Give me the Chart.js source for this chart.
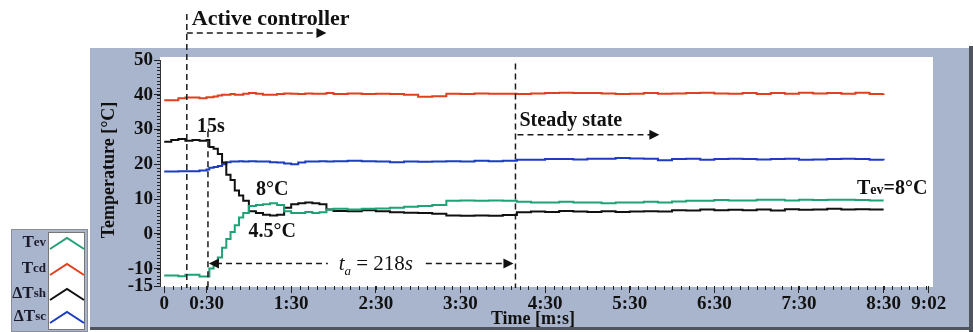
<!DOCTYPE html>
<html>
<head>
<meta charset="utf-8">
<script src="https://cdn.jsdelivr.net/npm/chart.js@4/dist/chart.umd.min.js"></script>
<style>
  html, body { margin: 0; padding: 0; background: #fff; }
  #wrap { width: 973px; height: 332px; position: relative; }
</style>
</head>
<body>
<div id="wrap"><canvas id="chartTemp" width="973" height="332"></canvas></div>
<script>
// time in seconds, shared by all four series
const seconds = [0,5,10,15,20,25,30, 32,35,38,41,44,47,50,53,56,
  60,65,70,75,80,85,90,95,100,105,110,115,120,
  130,140,150,160,170,180,190,200,210,220,230,240,250,260,270,280,290,300,310,320,
  330,340,350,360,370,380,390,400,410,420,430,440,450,460,470,480,490,500,510];

const tev = [-12,-12,-12.2,-11.8,-11.8,-12.3,-12.3,
  -10,-8.5,-6.8,-4,-1.5,0.5,2.5,4.7,6,
  8,8.3,8.5,8.8,8.3,6.5,6,6,6.3,6,6.2,7,7.2,
  7,7.2,7.3,7.5,7.8,8,8.3,9.5,9.6,9.5,9.6,9.5,9.2,9,9,9.2,9,9,8.8,9,
  9,9.2,9,9.3,9.5,9.5,9.7,9.6,9.6,9.8,9.8,9.6,9.8,9.7,9.8,9.8,9.7,9.6,9.6];

const tcd = [38.4,38.4,39,39.2,39.2,39,39.3,
  39.3,39.5,39.8,40,40,40.2,40,40,40.3,
  40.5,40.3,40,40,40.2,40.4,40.3,40.2,40.4,40.3,40.3,40.5,40.2,
  40.4,40.2,40.3,40.2,40,39.4,39.6,40.3,40.2,40.4,40.3,40.3,40.2,40.4,40.5,40.6,40.5,40.5,40.4,40.2,
  40.3,40.5,40.3,40.4,40.5,40.6,40.4,40.3,40.5,40.2,40.5,40.3,40.6,40.4,40.5,40.3,40.6,40.2,40.3];

const dtsh = [26.5,27,27.3,26.8,27,26.8,27,
  25,24.5,23,20.5,17,15.5,12.5,11,9.5,
  6.5,6,5.5,5.3,5.5,7.5,8.5,8.8,9,8.8,8.5,7,6.6,
  6.5,6.8,6.5,6.2,6.1,6,5.8,5.3,5.2,5.3,5.2,5.4,6.2,6.4,6.3,6.6,6.4,6.3,6.5,6.3,
  6.4,6.5,6.4,6.8,6.7,7,6.8,6.9,6.8,7,6.7,7.1,6.9,7,7.2,7,7.1,7,7];

const dtsc = [17.9,17.9,18,18,18,18.2,18.5,
  19,19.2,19.5,20,20.6,20.8,20.8,20.9,20.8,
  20.9,20.8,20.8,20.6,20.5,20.2,20,20.5,20.8,20.8,20.9,20.8,20.9,
  21,20.9,20.8,20.6,20.8,20.7,20.8,20.9,20.8,21,20.9,21,21.3,21.3,21.5,21.5,21.4,21.6,21.6,21.8,
  21.7,21.6,21.2,21.5,21.6,21.3,21.5,21.6,21.5,21.4,21.5,21.6,21.3,21.4,21.5,21.6,21.5,21.3,21.2];

const seriesNames = ['Tev', 'Tcd', 'ΔTsh', 'ΔTsc'];
const seriesColors = ['#1fa374', '#e0401f', '#111111', '#1c3cc4'];
const xTickSeconds = [0,30,90,150,210,270,330,390,450,510,542];
const yTickValues = [-15,-10,0,10,20,30,40,50];
const controlStart = 16, controlEffect = 31, steadyStart = 249;

const SERIF = "'Liberation Serif', 'Times New Roman', serif";

function fmtTime(s) {
  if (s === 0) return '0';
  const m = Math.floor(s / 60), r = s % 60;
  return m + ':' + String(r).padStart(2, '0');
}

function mk(vals, i) {
  return {
    label: seriesNames[i],
    data: seconds.map((s, k) => ({x: s, y: vals[k]})),
    borderColor: seriesColors[i],
    borderWidth: 2,
    pointRadius: 0,
    stepped: true,
    fill: false
  };
}

function dashLine(ctx, x1, y1, x2, y2) {
  ctx.beginPath();
  ctx.moveTo(x1, y1);
  ctx.lineTo(x2, y2);
  ctx.stroke();
}

function arrowHead(ctx, x, y, dir) {
  ctx.beginPath();
  ctx.moveTo(x, y);
  ctx.lineTo(x - dir * 10, y - 5);
  ctx.lineTo(x - dir * 10, y + 5);
  ctx.closePath();
  ctx.fill();
}

// draws a run of [text, size, italic, dy] pieces starting at x
function drawRuns(ctx, runs, x, y, bold) {
  let cx = x;
  runs.forEach(r => {
    ctx.font = (r[2] ? 'italic ' : '') + (bold ? 'bold ' : '') + r[1] + 'px ' + SERIF;
    ctx.fillText(r[0], cx, y + (r[3] || 0));
    cx += ctx.measureText(r[0]).width;
  });
  return cx - x;
}
function runsWidth(ctx, runs, bold) {
  let w = 0;
  runs.forEach(r => {
    ctx.font = (r[2] ? 'italic ' : '') + (bold ? 'bold ' : '') + r[1] + 'px ' + SERIF;
    w += ctx.measureText(r[0]).width;
  });
  return w;
}

const deco = {
  id: 'deco',
  beforeDraw(chart) {
    const {ctx, chartArea: a} = chart;
    ctx.save();
    ctx.fillStyle = '#fff';
    ctx.fillRect(0, 0, chart.width, chart.height);
    ctx.fillStyle = '#a9b5cd';
    ctx.fillRect(90, 48, 879, 280);
    ctx.fillStyle = '#4f545e';
    ctx.fillRect(969, 46, 4, 286);
    ctx.fillRect(90, 327, 883, 3);
    ctx.fillStyle = '#fff';
    ctx.fillRect(a.left, a.top - 3, a.right - a.left, a.bottom - a.top + 4);
    ctx.restore();
  },
  afterDraw(chart) {
    const {ctx, chartArea: a, scales: {x, y}} = chart;
    ctx.save();

    // minor ticks
    ctx.strokeStyle = '#222';
    ctx.lineWidth = 1;
    for (let v = -15; v <= 50; v++) {
      const py = Math.round(y.getPixelForValue(v)) + 0.5;
      dashLine(ctx, a.left - 3, py, a.left, py);
    }
    for (let s = 0; s <= 540; s += 6) {
      const px = Math.round(x.getPixelForValue(s)) + 0.5;
      dashLine(ctx, px, a.bottom, px, a.bottom + 4);
    }

    // vertical dashed markers
    ctx.strokeStyle = '#1a1a1a';
    ctx.fillStyle = '#111';
    ctx.lineWidth = 1.5;
    ctx.setLineDash([6, 4]);
    const x1 = x.getPixelForValue(controlStart);
    const x2 = x.getPixelForValue(controlEffect);
    const x3 = x.getPixelForValue(steadyStart);
    dashLine(ctx, x1, 14, x1, a.bottom + 2);
    dashLine(ctx, x2, y.getPixelForValue(29.5), x2, a.bottom + 2);
    dashLine(ctx, x3, y.getPixelForValue(49), x3, a.bottom + 2);

    // horizontal dashed arrows
    const ya = 33;
    dashLine(ctx, x1, ya, x.getPixelForValue(115) - 8, ya);
    const ys = y.getPixelForValue(28.5);
    dashLine(ctx, x3 + 2, ys, x.getPixelForValue(351) - 8, ys);
    const yt = y.getPixelForValue(-8.5);
    const tMid = x.getPixelForValue(150);
    dashLine(ctx, x2 + 8, yt, tMid - 48, yt);
    dashLine(ctx, tMid + 50, yt, x3 - 8, yt);
    ctx.setLineDash([]);
    arrowHead(ctx, x.getPixelForValue(115), ya, 1);
    arrowHead(ctx, x.getPixelForValue(351), ys, 1);
    arrowHead(ctx, x2 + 1, yt, -1);
    arrowHead(ctx, x3 - 2, yt, 1);

    // text annotations
    ctx.fillStyle = '#111';
    ctx.textBaseline = 'alphabetic';
    ctx.textAlign = 'left';
    ctx.font = 'bold 22px ' + SERIF;
    ctx.fillText('Active controller', x1 + 5, 25);
    ctx.font = 'bold 20px ' + SERIF;
    ctx.fillText('Steady state', x3 + 4, y.getPixelForValue(33) + 7);
    ctx.fillText('15s', x2 - 11, y.getPixelForValue(31.3) + 7);
    ctx.textAlign = 'center';
    ctx.fillText('8°C', x.getPixelForValue(76.5), y.getPixelForValue(13.2) + 7);
    ctx.fillText('4.5°C', x.getPixelForValue(76.5), y.getPixelForValue(1.1) + 7);
    ctx.textAlign = 'left';

    const tevRuns = [['T', 20], ['ev', 14], ['=8°C', 20]];
    const tw = runsWidth(ctx, tevRuns, true);
    drawRuns(ctx, tevRuns, x.getPixelForValue(541) - tw, y.getPixelForValue(13.5) + 7, true);

    const taRuns = [['t', 21, true], ['a', 13, true, 5], [' = 218', 21], ['s', 21, true]];
    const taw = runsWidth(ctx, taRuns, false);
    drawRuns(ctx, taRuns, tMid - taw / 2, yt + 7, false);

    // axis titles
    ctx.font = 'bold 18px ' + SERIF;
    ctx.textAlign = 'center';
    ctx.textBaseline = 'middle';
    ctx.fillText('Time [m:s]', 533, 319);
    ctx.save();
    ctx.translate(109, 170);
    ctx.rotate(-Math.PI / 2);
    ctx.fillText('Temperature [°C]', 0, 0);
    ctx.restore();

    // legend box
    ctx.fillStyle = '#a9b5cd';
    ctx.fillRect(11, 229, 77, 103);
    ctx.strokeStyle = '#8a8f99';
    ctx.lineWidth = 1;
    ctx.strokeRect(11.5, 229.5, 76, 102);
    ctx.fillStyle = '#fff';
    ctx.fillRect(48, 232, 37, 98);
    ctx.strokeStyle = '#777';
    ctx.strokeRect(48.5, 232.5, 36, 97);
    const rows = [243, 269, 294, 317];
    chart.data.datasets.forEach((ds, i) => {
      const ry = rows[i];
      const name = ds.label;
      const delta = name.startsWith('Δ');
      const core = delta ? name.slice(1) : name;
      const runs = (delta ? [['Δ', 16]] : []).concat([[core[0], 17], [core.slice(1), 13]]);
      ctx.fillStyle = '#1a1a2a';
      ctx.textAlign = 'left';
      ctx.textBaseline = 'middle';
      const w = runsWidth(ctx, runs, true);
      drawRuns(ctx, runs, 46 - w, ry, true);
      ctx.strokeStyle = ds.borderColor;
      ctx.lineWidth = 2;
      ctx.beginPath();
      ctx.moveTo(50, ry + 6);
      ctx.lineTo(67, ry - 5);
      ctx.lineTo(84, ry + 6);
      ctx.stroke();
    });

    ctx.restore();
  }
};

new Chart(document.getElementById('chartTemp'), {
  type: 'line',
  data: {datasets: [mk(tev, 0), mk(tcd, 1), mk(dtsh, 2), mk(dtsc, 3)]},
  plugins: [deco],
  options: {
    responsive: false,
    animation: false,
    layout: {padding: {left: 0, top: 60, right: 40, bottom: 0}},
    plugins: {legend: {display: false}, tooltip: {enabled: false}},
    scales: {
      x: {
        type: 'linear',
        min: -3,
        max: 545,
        afterBuildTicks: s => { s.ticks = xTickSeconds.map(v => ({value: v})); },
        afterFit: s => { s.height = 46; },
        grid: {drawOnChartArea: false, tickLength: 7, tickColor: '#222'},
        border: {display: false},
        ticks: {
          autoSkip: false, maxRotation: 0, padding: 0, color: '#111',
          font: {family: SERIF, size: 19, weight: 'bold'},
          callback: v => fmtTime(v)
        }
      },
      y: {
        min: -15,
        max: 50,
        afterBuildTicks: s => { s.ticks = yTickValues.map(v => ({value: v})); },
        afterFit: s => { s.width = 160; },
        grid: {drawOnChartArea: false, tickLength: 6, tickColor: '#222'},
        border: {display: true, color: '#333', width: 1},
        ticks: {
          padding: 1, color: '#111',
          font: {family: SERIF, size: 19, weight: 'bold'}
        }
      }
    }
  }
});
</script>
</body>
</html>
